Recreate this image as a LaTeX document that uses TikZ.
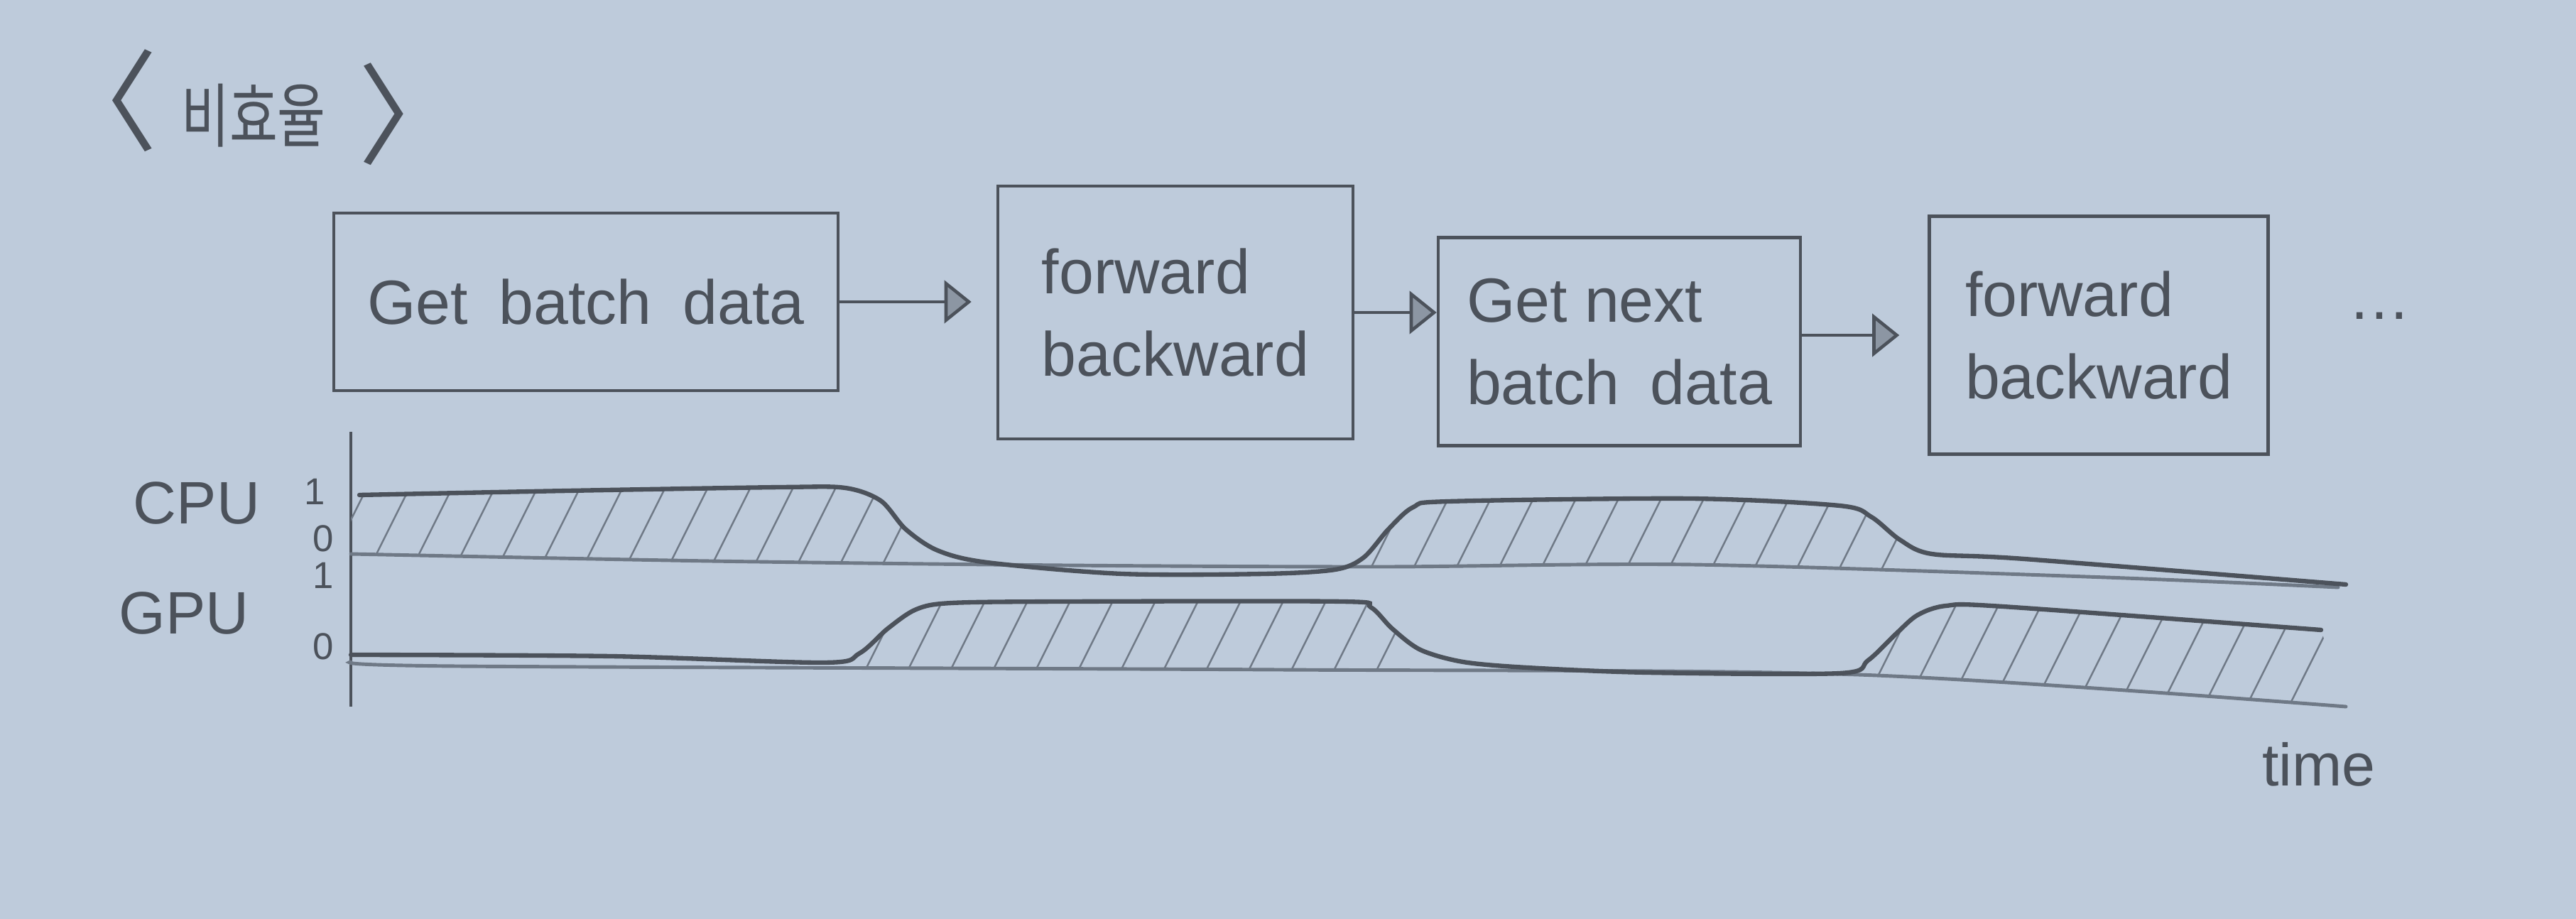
\documentclass[tikz,border=0pt]{standalone}
\usepackage{fontspec}
\setmainfont{Liberation Sans}
\newfontfamily\krfont{Noto Sans CJK KR}
\usetikzlibrary{arrows.meta,calc,positioning}
\definecolor{Paper}{HTML}{BECBDB}
\definecolor{Lead}{HTML}{4C525B}
\definecolor{LeadSoft}{HTML}{6F7986}
\definecolor{LeadFill}{HTML}{8C96A3}
\begin{document}
\begin{tikzpicture}[x=1cm,y=-1cm,every node/.style={text=Lead},box/.style={draw=Lead,line width=1.3pt,inner sep=0pt,align=left,font=\fontsize{25}{33}\selectfont},flow/.style={draw=Lead,line width=1.3pt,-{Triangle[length=3.8mm,width=6mm,fill=LeadFill]}},bracket/.style={font=\krfont\fontsize{44}{44}\selectfont},curve/.style={draw=Lead,line width=1.8pt,line cap=round},base/.style={draw=LeadSoft,line width=1.4pt,line cap=round},hatch/.style={draw=LeadSoft,line width=0.7pt},tick/.style={font=\fontsize{15}{15}\selectfont},axislabel/.style={font=\fontsize{24}{24}\selectfont}]
\fill[Paper] (0,0) rectangle (36.27,12.94);
\node[bracket](lbr) at (1.45,1.42){〈};\node[font=\krfont\fontsize{28}{28}\selectfont](title) at (3.57,1.63){\scalebox{0.75}[1]{비효율}};\node[bracket](rbr) at (5.82,1.61){〉};
\node[box,minimum width=7.1cm,minimum height=2.5cm](getdata) at (8.25,4.25){Get\hspace{0.5em}batch\hspace{0.5em}data};
\node[box,minimum width=5cm,minimum height=3.56cm](fwd1) at (16.55,4.40){forward\\backward};
\node[box,minimum width=5.1cm,minimum height=2.93cm](getnext) at (22.80,4.81){Get next\\batch\hspace{0.5em}data};
\node[box,minimum width=4.77cm,minimum height=3.35cm](fwd2) at (29.55,4.72){forward\\backward};
\node[font=\fontsize{25}{25}\selectfont](more) at (33.5,4.45){\dots};
\draw[flow,shorten >=0.35cm](getdata.east)--(getdata.east -| fwd1.west);
\draw[flow](fwd1.east)--(fwd1.east -| getnext.west);
\draw[flow,shorten >=0.4cm](fwd2.west -| getnext.east)--(fwd2.west);
\draw[draw=Lead,line width=1.2pt](4.94,6.08)--(4.94,9.95);
\node[axislabel](cpu) at (2.77,7.08){CPU};\node[axislabel](gpu) at (2.59,8.63){GPU};
\node[tick](cpuhi) at (4.43,6.92){1};\node[tick](cpulo) at (4.55,7.58){0};\node[tick](gpuhi) at (4.55,8.10){1};\node[tick](gpulo) at (4.55,9.10){0};
\node[axislabel](time) at (32.65,10.76){time};
\begin{scope}
\clip plot[smooth,tension=0.5] coordinates {(4.94,6.97)(8.0,6.91)(11.0,6.86)(11.9,6.87)(12.4,7.05)(12.75,7.45)(13.2,7.75)(13.9,7.92)(15.8,8.08)(17.8,8.08)(18.8,8.02)(19.2,7.85)(19.55,7.45)(19.9,7.14)(20.4,7.06)(23.8,7.02)(25.9,7.12)(26.35,7.28)(26.75,7.6)(27.2,7.8)(28.5,7.87)(33.03,8.23)} -- plot[smooth,tension=0.5] coordinates {(32.92,8.27)(29.65,8.13)(23.83,7.95)(19.5,7.98)(15.0,7.96)(10.0,7.90)(4.94,7.80)} -- cycle;
\foreach \x in {4.4,5.0,...,12.6} \draw[hatch](\x,8.4)--++(0.8,-1.6);
\foreach \x in {19.1,19.7,...,26.4} \draw[hatch](\x,8.4)--++(0.8,-1.6);
\end{scope}
\begin{scope}
\clip plot[smooth,tension=0.5] coordinates {(4.94,9.22)(8.6,9.24)(11.6,9.33)(12.1,9.20)(12.5,8.85)(12.9,8.58)(13.4,8.49)(15.0,8.47)(18.9,8.47)(19.3,8.55)(19.6,8.85)(20.0,9.15)(20.6,9.32)(21.5,9.40)(23.2,9.47)(25.9,9.48)(26.3,9.30)(26.7,8.92)(27.0,8.66)(27.4,8.53)(28.2,8.54)(32.68,8.87)} -- plot[smooth,tension=0.5] coordinates {(33.03,9.95)(26.16,9.50)(18.0,9.43)(6.44,9.38)(4.94,9.32)} -- cycle;
\foreach \x in {11.9,12.5,...,19.2} \draw[hatch](\x,10.0)--++(0.8,-1.6);
\foreach \x in {26.2,26.8,...,32.6} \draw[hatch](\x,10.0)--++(0.8,-1.6);
\end{scope}
\draw[base] plot[smooth,tension=0.5] coordinates {(4.94,7.80)(10.0,7.90)(15.0,7.96)(19.5,7.98)(23.83,7.95)(29.65,8.13)(32.92,8.27)};
\draw[curve] plot[smooth,tension=0.5] coordinates {(5.06,6.97)(8.0,6.91)(11.0,6.86)(11.9,6.87)(12.4,7.05)(12.75,7.45)(13.2,7.75)(13.9,7.92)(15.8,8.08)(17.8,8.08)(18.8,8.02)(19.2,7.85)(19.55,7.45)(19.9,7.14)(20.4,7.06)(23.8,7.02)(25.9,7.12)(26.35,7.28)(26.75,7.6)(27.2,7.8)(28.5,7.87)(33.03,8.23)};
\draw[base] plot[smooth,tension=0.5] coordinates {(4.94,9.32)(6.44,9.38)(18.0,9.43)(26.16,9.50)(33.03,9.95)};
\draw[curve] plot[smooth,tension=0.5] coordinates {(4.94,9.22)(8.6,9.24)(11.6,9.33)(12.1,9.20)(12.5,8.85)(12.9,8.58)(13.4,8.49)(15.0,8.47)(18.9,8.47)(19.3,8.55)(19.6,8.85)(20.0,9.15)(20.6,9.32)(21.5,9.40)(23.2,9.47)(25.9,9.48)(26.3,9.30)(26.7,8.92)(27.0,8.66)(27.4,8.53)(28.2,8.54)(32.68,8.87)};
\end{tikzpicture}
\end{document}
